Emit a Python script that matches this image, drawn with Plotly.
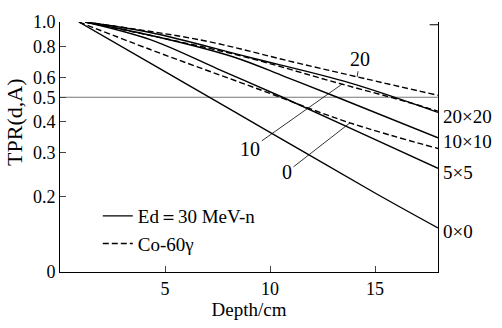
import math
import plotly.graph_objects as go

# Depth (cm) and TPR(d,A) samples for each field size
n_0_depth = [0.9, 5.0, 10.0, 15.0, 18.0]
n_0_tpr = [1.0, 0.633, 0.362, 0.207, 0.150]
n_5_depth = [1.2, 4.3, 7.5, 10.6, 14.0, 18.0]
n_5_tpr = [1.0, 0.85, 0.65, 0.50, 0.37, 0.26]
n_10_depth = [1.2, 4.3, 8.3, 10.7, 13.2, 18.0]
n_10_tpr = [1.0, 0.885, 0.723, 0.605, 0.50, 0.344]
n_20_depth = [1.2, 4.3, 9.0, 13.8, 18.0]
n_20_tpr = [1.0, 0.908, 0.723, 0.571, 0.435]

co_0_depth = [0.9, 4.3, 9.5, 13.8, 18.0]
co_0_tpr = [1.0, 0.776, 0.537, 0.395, 0.312]
co_10_depth = [1.2, 8.3, 13.2, 16.3, 18.0]
co_10_tpr = [1.0, 0.743, 0.571, 0.485, 0.440]
co_20_depth = [1.2, 6.7, 11.1, 14.5, 18.0]
co_20_tpr = [1.0, 0.847, 0.692, 0.594, 0.509]

y_tick_vals = [0.1, 0.2, 0.3, 0.4, 0.5, 0.6, 0.8, 1.0]
y_tick_text = ["0", "0.2", "0.3", "0.4", "0.5", "0.6", "0.8", "1.0"]
x_tick_vals = [5, 10, 15]

neutron_labels = ["20×20", "10×10", "5×5", "0×0"]
cobalt_labels = ["20", "10", "0"]

FONT = "Liberation Serif"
fig = go.Figure()

# reference level TPR = 0.5
fig.add_trace(go.Scatter(x=[0, 18], y=[0.5, 0.5], mode="lines",
                         line=dict(color="#777", width=1), showlegend=False,
                         hoverinfo="skip"))

neutron = [(n_20_depth, n_20_tpr), (n_10_depth, n_10_tpr),
           (n_5_depth, n_5_tpr), (n_0_depth, n_0_tpr)]
cobalt = [(co_20_depth, co_20_tpr), (co_10_depth, co_10_tpr),
          (co_0_depth, co_0_tpr)]

for i, (d, t) in enumerate(neutron):
    fig.add_trace(go.Scatter(
        x=d, y=t, mode="lines", line=dict(color="black", width=1.4, shape="spline"),
        name="Ed＝30 MeV-n", showlegend=(i == 0), legendrank=1))
for i, (d, t) in enumerate(cobalt):
    fig.add_trace(go.Scatter(
        x=d, y=t, mode="lines",
        line=dict(color="black", width=1.4, dash="6px,3px", shape="spline"),
        name="Co-60γ", showlegend=(i == 0), legendrank=2))

# short tick at the top of the right-hand frame line
fig.add_trace(go.Scatter(x=[17.6, 18], y=[0.975, 0.975], mode="lines",
                         line=dict(color="black", width=1), showlegend=False,
                         hoverinfo="skip"))

annotations = []
# field-size labels at the right end of the neutron curves
for lab, (d, t) in zip(neutron_labels, neutron):
    annotations.append(dict(x=d[-1], y=math.log10(t[-1]), xref="x", yref="y",
                            text=lab, showarrow=False, xanchor="left",
                            xshift=3, yshift=-4,
                            font=dict(family=FONT, size=19, color="black")))

# leader-line labels for the Co-60 curves
leaders = [(14.15, 0.604, 3, -18), (13.44, 0.565, -92, 65), (13.81, 0.395, -63, 49)]
for lab, (x, t, ax, ay) in zip(cobalt_labels, leaders):
    annotations.append(dict(x=x, y=math.log10(t), xref="x", yref="y", text=lab,
                            showarrow=True, arrowhead=0, arrowwidth=0.8,
                            arrowcolor="black", ax=ax, ay=ay,
                            font=dict(family=FONT, size=20, color="black")))

# y-axis title
annotations.append(dict(x=-0.122, y=0.6, xref="paper", yref="paper",
                        xanchor="center", yanchor="middle",
                        text="TPR(d,A)", showarrow=False, textangle=-90,
                        font=dict(family=FONT, size=22, color="black")))

fig.update_layout(
    width=502, height=328,
    margin=dict(l=60, r=64, t=16, b=48),
    paper_bgcolor="white", plot_bgcolor="white",
    font=dict(family=FONT, size=18, color="black"),
    annotations=annotations,
    legend=dict(x=0.1, y=0.3, xanchor="left", yanchor="top",
                bgcolor="rgba(0,0,0,0)", font=dict(family=FONT, size=19),
                tracegroupgap=0, itemwidth=30),
    xaxis=dict(range=[0, 18], tickvals=x_tick_vals, ticks="inside", ticklen=6,
               showline=True, linecolor="black", linewidth=1, showgrid=False,
               zeroline=False, tickfont=dict(family=FONT, size=18),
               title=dict(text="Depth/cm", font=dict(family=FONT, size=19),
                          standoff=4)),
    yaxis=dict(type="log", range=[-1, 0], tickvals=y_tick_vals,
               ticktext=y_tick_text, ticks="inside", ticklen=6,
               showline=True, mirror=True, linecolor="black", linewidth=1,
               showgrid=False, zeroline=False, tickfont=dict(family=FONT, size=18)),
)

fig.write_html("out.html")
